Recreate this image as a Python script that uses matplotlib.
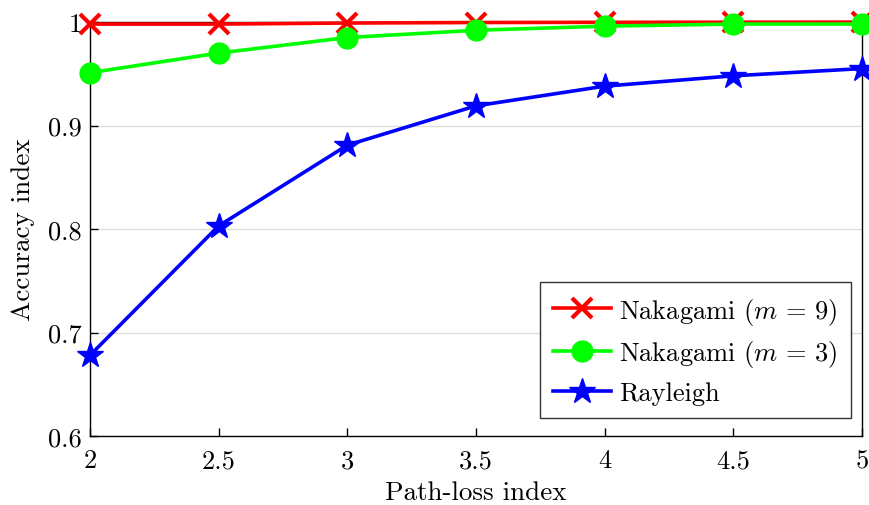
import numpy as np
import matplotlib
matplotlib.use('Agg')
import matplotlib.pyplot as plt

plt.rcParams['font.family'] = 'serif'
plt.rcParams['font.serif'] = ['cmr10', 'DejaVu Serif']
plt.rcParams['mathtext.fontset'] = 'cm'
plt.rcParams['axes.formatter.use_mathtext'] = True

# path-loss index
path_loss = [2, 2.5, 3, 3.5, 4, 4.5, 5]

# accuracy index per fading model
acc_m9 = [0.998, 0.998, 0.999, 0.9995, 0.9997, 0.9998, 0.9999]
acc_m3 = [0.951, 0.970, 0.985, 0.992, 0.996, 0.998, 0.998]
acc_ray = [0.678, 0.803, 0.881, 0.919, 0.938, 0.948, 0.955]

x_ticks = [2, 2.5, 3, 3.5, 4, 4.5, 5]
x_ticklabels = ['2', '2.5', '3', '3.5', '4', '4.5', '5']
y_ticks = [0.6, 0.7, 0.8, 0.9, 1.0]
y_ticklabels = ['0.6', '0.7', '0.8', '0.9', '1']

fig = plt.figure(figsize=(8.7, 5.06), dpi=100)
ax = fig.add_axes([90/870, 1-437/506, (862-90)/870, (437-23)/506])

ax.plot(path_loss, acc_m9, color='#ff0000', lw=2.6, marker='x', ms=14, mew=3,
        label=r'Nakagami ($m\,=\,9$)', clip_on=False, zorder=3)
ax.plot(path_loss, acc_m3, color='#00ff00', lw=2.6, marker='o', ms=15,
        label=r'Nakagami ($m\,=\,3$)', clip_on=False, zorder=4)
ax.plot(path_loss, acc_ray, color='#0000ff', lw=2.6, marker='*', ms=19,
        label='Rayleigh', clip_on=False, zorder=5)

ax.set_xlim(2, 5)
ax.set_ylim(0.6, 1.0)
ax.set_xticks(x_ticks)
ax.set_xticklabels(x_ticklabels)
ax.set_yticks(y_ticks)
ax.set_yticklabels(y_ticklabels)
ax.tick_params(direction='in', length=6, width=1, labelsize=19)
ax.tick_params(axis='x', pad=9)
ax.tick_params(axis='y', pad=6)
ax.yaxis.grid(True, color='#dcdcdc', lw=0.9)
ax.set_axisbelow(True)
for s in ax.spines.values():
    s.set_linewidth(1.0)

ax.set_xlabel('Path-loss index', fontsize=19.5, labelpad=6)
ax.set_ylabel('Accuracy index', fontsize=19.5, labelpad=9)

leg = ax.legend(loc='lower right', bbox_to_anchor=(1.0026, 0.011), fontsize=19,
                fancybox=False, edgecolor='#333333', framealpha=1,
                handlelength=2.2, borderpad=0.5, labelspacing=0.45, handletextpad=0.3)
leg.get_frame().set_linewidth(1.0)

plt.savefig('out.png', dpi=100)
